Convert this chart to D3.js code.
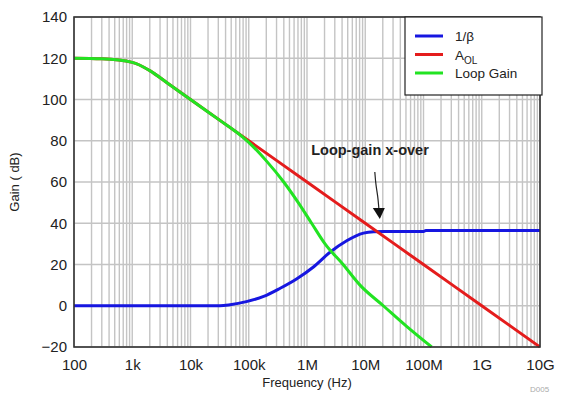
<!DOCTYPE html>
<html>
<head>
<meta charset="utf-8">
<script src="https://cdn.jsdelivr.net/npm/d3@7"></script>
<style>
  body { margin: 0; background: #fff; }
  text { font-family: "Liberation Sans", Arial, sans-serif; fill: #222; }
</style>
</head>
<body>
<svg id="chart" width="561" height="393"></svg>
<script>
// values
var xTickVals = [1e2, 1e3, 1e4, 1e5, 1e6, 1e7, 1e8, 1e9, 1e10];
var xTickLabels = ["100", "1k", "10k", "100k", "1M", "10M", "100M", "1G", "10G"];
var yTickVals = [-20, 0, 20, 40, 60, 80, 100, 120, 140];

// A_OL
var aolFreq = [100, 300, 1e3, 2e3, 4e3, 1e4, 1e5, 1e6, 1e7, 1e8, 1e9, 1e10];
var aolDb   = [120, 119.7, 118, 114, 108, 100, 80, 60, 40, 20, 0, -20];

// 1/beta
var betaFreq = [100, 3.2e4, 4.8e4, 9.1e4, 1.8e5, 3.47e5, 6.6e5, 1.29e6, 2.45e6, 4.8e6, 9.3e6, 1.4e7, 2e7, 1e8, 1.1e8, 1e10];
var betaDb   = [0, 0, 0.5, 2, 4.5, 8.5, 13, 18.8, 25.8, 31.5, 35.2, 35.9, 36, 36, 36.5, 36.5];

// loop gain
var loopFreq = [100, 300, 1e3, 2e3, 4e3, 1e4, 3.16e4, 6.3e4, 9.77e4, 2.04e5, 3.98e5, 7.08e5, 1.2e6, 2.04e6, 4.17e6, 8.13e6, 2.04e7, 5.13e7, 1.38e8];
var loopDb   = [120, 119.7, 118, 114, 108, 100, 90, 84, 79.5, 70, 60, 50, 40, 30, 20, 10, 0, -10, -20];

var svg = d3.select("#chart");
var pLeft = 74, pRight = 540, pTop = 17, pBottom = 347;

var x = d3.scaleLog().domain([1e2, 1e10]).range([pLeft, pRight]);
var y = d3.scaleLinear().domain([-20, 140]).range([pBottom, pTop]);

// grid: minor + major verticals
var vgrid = [];
for (var d = 2; d < 10; d++) {
  var dec = Math.pow(10, d);
  for (var m = 1; m < 10; m++) vgrid.push(dec * m);
}
vgrid.push(1e10);

svg.append("g").selectAll("line")
    .data(vgrid)
  .enter().append("line")
    .attr("x1", d => x(d)).attr("x2", d => x(d))
    .attr("y1", pTop).attr("y2", pBottom)
    .attr("stroke", "#c4c4c4")
    .attr("stroke-width", 1.4);

svg.append("g").selectAll("line")
    .data(yTickVals)
  .enter().append("line")
    .attr("x1", pLeft).attr("x2", pRight)
    .attr("y1", d => y(d)).attr("y2", d => y(d))
    .attr("stroke", "#c4c4c4")
    .attr("stroke-width", 1.4);

// axes labels (no tick marks)
var xAxis = d3.axisBottom(x)
    .tickValues(xTickVals)
    .tickFormat((d, i) => xTickLabels[i])
    .tickSize(0).tickPadding(12);
var gx = svg.append("g").attr("transform", "translate(0," + pBottom + ")").call(xAxis);
gx.select(".domain").remove();
gx.selectAll("text").attr("font-size", "15px").attr("fill", "#222")
    .attr("font-family", "Liberation Sans, Arial, sans-serif");

var yAxis = d3.axisLeft(y).tickValues(yTickVals).tickSize(0).tickPadding(7);
var gy = svg.append("g").attr("transform", "translate(" + pLeft + ",0)").call(yAxis);
gy.select(".domain").remove();
gy.selectAll("text").attr("font-size", "15px").attr("fill", "#222")
    .attr("font-family", "Liberation Sans, Arial, sans-serif");

svg.append("text")
    .attr("x", (pLeft + pRight) / 2).attr("y", 387)
    .attr("text-anchor", "middle")
    .attr("font-size", "13px")
    .text("Frequency (Hz)");

svg.append("text")
    .attr("transform", "translate(19," + ((pTop + pBottom) / 2) + ") rotate(-90)")
    .attr("text-anchor", "middle")
    .attr("font-size", "13px")
    .text("Gain ( dB)");

svg.append("text")
    .attr("x", 530).attr("y", 392)
    .attr("font-size", "8px")
    .style("fill", "#aaa")
    .text("D005");

// curves
var clipId = "plotclip";
svg.append("clipPath").attr("id", clipId)
  .append("rect").attr("x", pLeft).attr("y", pTop)
    .attr("width", pRight - pLeft).attr("height", pBottom - pTop + 1);

var line = d3.line()
    .x(d => x(d[0]))
    .y(d => y(d[1]))
    .curve(d3.curveMonotoneX);

function series(fr, db) { return fr.map((f, i) => [f, db[i]]); }

var curves = [
  { name: "beta", data: series(betaFreq, betaDb), color: "#1616e0" },
  { name: "aol", data: series(aolFreq, aolDb), color: "#e41c1c" },
  { name: "loop", data: series(loopFreq, loopDb), color: "#22e322" }
];

svg.append("g").attr("clip-path", "url(#" + clipId + ")")
  .selectAll("path")
    .data(curves)
  .enter().append("path")
    .attr("d", d => line(d.data))
    .attr("fill", "none")
    .attr("stroke", d => d.color)
    .attr("stroke-width", 3)
    .attr("stroke-linejoin", "round");

// plot frame
svg.append("rect")
    .attr("x", pLeft).attr("y", pTop)
    .attr("width", pRight - pLeft).attr("height", pBottom - pTop)
    .attr("fill", "none")
    .attr("stroke", "#333")
    .attr("stroke-width", 1.6);

// annotation
var xo = x(1.58e7);
svg.append("text")
    .attr("x", 370).attr("y", 155)
    .attr("text-anchor", "middle")
    .attr("font-size", "14.5px")
    .attr("font-weight", "bold")
    .text("Loop-gain x-over");

svg.append("path")
    .attr("d", d3.line().curve(d3.curveBasis)([[xo - 2, 172], [xo - 1, 185], [xo + 1, 196], [xo + 2, 208]]))
    .attr("fill", "none")
    .attr("stroke", "#222")
    .attr("stroke-width", 1.2);
svg.append("path")
    .attr("d", "M" + (xo - 4) + ",208 L" + (xo + 8) + ",208 L" + (xo + 3) + ",219 Z")
    .attr("fill", "#111");

// legend
var lg = svg.append("g");
lg.append("rect")
    .attr("x", 405).attr("y", pTop)
    .attr("width", 137).attr("height", 78)
    .attr("fill", "#fff")
    .attr("stroke", "#222")
    .attr("stroke-width", 1.2);

var legendItems = [
  { label: "1/\u03B2", color: "#1616e0" },
  { label: "A", sub: "OL", color: "#e41c1c" },
  { label: "Loop Gain", color: "#22e322" }
];
legendItems.forEach((d, i) => {
  var ly = 36 + i * 18.5;
  lg.append("line")
      .attr("x1", 415).attr("x2", 443)
      .attr("y1", ly).attr("y2", ly)
      .attr("stroke", d.color).attr("stroke-width", 3);
  var t = lg.append("text")
      .attr("x", 455).attr("y", ly + 5)
      .attr("font-size", "13.5px")
      .text(d.label);
  if (d.sub) {
    t.append("tspan").attr("dy", 4).attr("font-size", "10px").text(d.sub);
  }
});
</script>
</body>
</html>
